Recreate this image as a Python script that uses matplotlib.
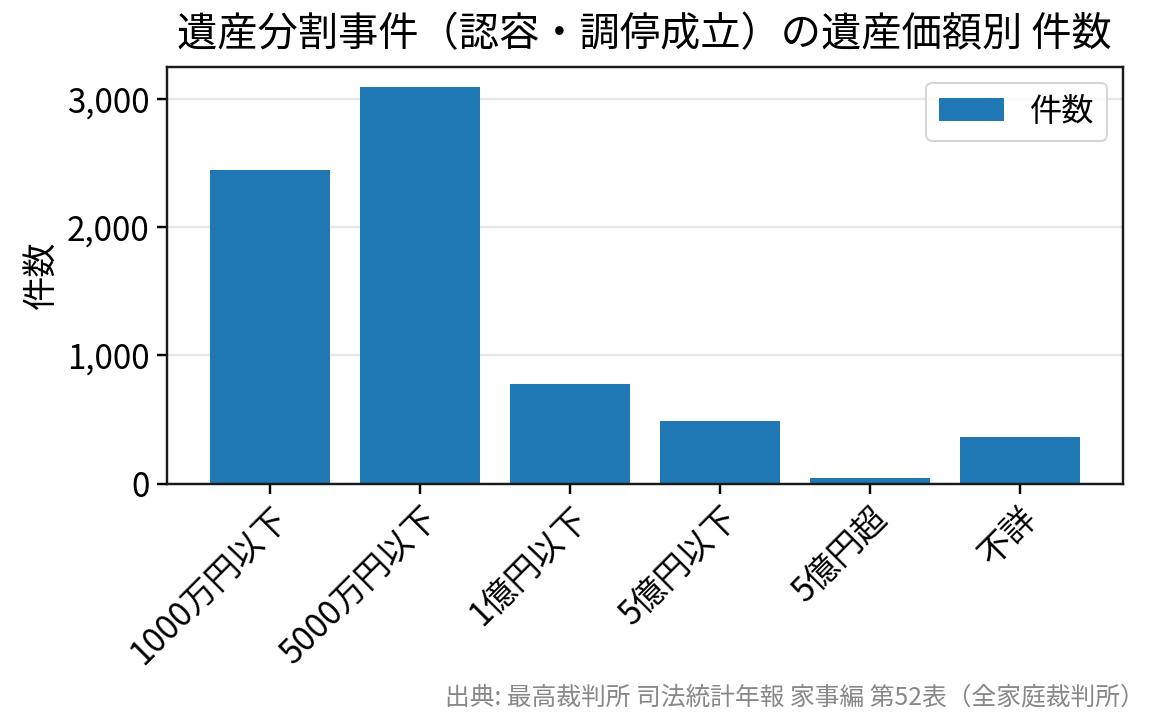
import matplotlib
matplotlib.use("Agg")
import matplotlib.pyplot as plt
from matplotlib.ticker import FuncFormatter

plt.rcParams["font.family"] = ["Noto Sans CJK JP", "DejaVu Sans"]

# 遺産価額別の件数
categories = ["1000万円以下", "5000万円以下", "1億円以下", "5億円以下", "5億円超", "不詳"]
counts = [2450, 3099, 779, 487, 42, 362]

title = "遺産分割事件（認容・調停成立）の遺産価額別 件数"
source = "出典: 最高裁判所 司法統計年報 家事編 第52表（全家庭裁判所）"

fig = plt.figure(figsize=(1165 / 145, 725 / 145), dpi=145)
ax = fig.add_axes([0.143, 0.333, 0.821, 0.575])

ax.bar(categories, counts, width=0.8, color="#1f77b4", label="件数", zorder=2)
ax.set_title(title, fontsize=20, pad=10)
ax.set_ylabel("件数", fontsize=17)
ax.yaxis.set_major_formatter(FuncFormatter(lambda v, p: f"{v:,.0f}"))
ax.tick_params(axis="both", labelsize=16.5, width=1.2, length=5)
plt.setp(ax.get_xticklabels(), rotation=45, ha="right", rotation_mode="anchor")
ax.grid(axis="y", color="#b0b0b0", alpha=0.3, linewidth=1.2, zorder=3)
for s in ax.spines.values():
    s.set_linewidth(1.2)
    s.set_color("#1a1a1a")
ax.legend(loc="upper right", fontsize=16)

fig.text(0.983, 0.02, source, ha="right", va="bottom", fontsize=12.3, color="#888888")

fig.savefig("out.png", dpi=145)
